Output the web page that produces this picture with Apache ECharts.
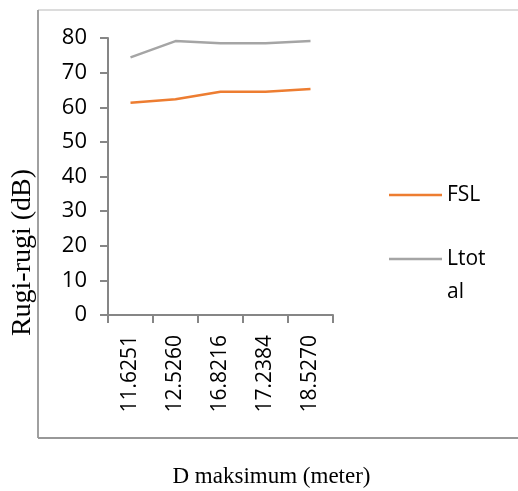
<!DOCTYPE html>
<html>
<head>
<meta charset="utf-8">
<script src="https://cdn.jsdelivr.net/npm/echarts@6/dist/echarts.min.js"></script>
<style>
  html, body { margin: 0; padding: 0; background: #fff; }
  #chart { width: 518px; height: 491px; }
</style>
</head>
<body>
<div id="chart"></div>
<script>
// D maksimum (meter) categories
var categories = ['11.6251', '12.5260', '16.8216', '17.2384', '18.5270'];
// Rugi-rugi (dB)
var fsl = [61.3, 62.3, 64.5, 64.5, 65.3];
var ltotal = [74.4, 79.1, 78.5, 78.5, 79.1];
var yTicks = { min: 0, max: 80, interval: 10 };

var axisColor = '#868686';
var sans = '"Open Sans", sans-serif';
var serif = '"Liberation Serif", "Times New Roman", serif';

var chart = echarts.init(document.getElementById('chart'), null, { renderer: 'canvas' });

chart.setOption({
  backgroundColor: '#fff',
  animation: false,
  grid: {
    left: 108,
    right: 185,
    top: 38,
    bottom: 176,
    containLabel: false,
    outerBoundsMode: 'none'
  },
  graphic: [
    { type: 'line', shape: { x1: 38, y1: 10, x2: 518, y2: 10 }, style: { stroke: '#d0d0d0', lineWidth: 1.5 } },
    { type: 'line', shape: { x1: 38, y1: 10, x2: 38, y2: 438 }, style: { stroke: '#a0a0a0', lineWidth: 2 } },
    { type: 'line', shape: { x1: 38, y1: 438, x2: 518, y2: 438 }, style: { stroke: '#989898', lineWidth: 2 } }
  ],
  legend: [
    {
      data: ['FSL'],
      orient: 'vertical',
      left: 389,
      top: 184.5,
      padding: 0,
      icon: 'rect',
      itemWidth: 53,
      itemHeight: 2.5,
      textStyle: { fontFamily: sans, fontSize: 21, color: '#000' }
    },
    {
      data: ['Ltotal'],
      orient: 'vertical',
      left: 389,
      top: 209.5,
      padding: 0,
      icon: 'rect',
      itemWidth: 53,
      itemHeight: 2.5,
      // Excel wrapped the long name: keep "Ltot" level with the swatch
      formatter: function (name) { return '\u00a0\nLtot\nal'; },
      textStyle: { fontFamily: sans, fontSize: 21, color: '#000', lineHeight: 33 }
    }
  ],
  xAxis: {
    type: 'category',
    data: categories,
    boundaryGap: true,
    name: 'D maksimum (meter)',
    nameLocation: 'middle',
    nameGap: 150,
    nameTextStyle: { fontFamily: serif, fontSize: 23, color: '#000', padding: [0, 0, 0, 102] },
    axisLine: { lineStyle: { color: axisColor, width: 2 } },
    axisTick: { show: true, length: 8, lineStyle: { color: axisColor, width: 2 } },
    axisLabel: { rotate: 90, margin: 20, fontFamily: sans, fontSize: 21, color: '#000' }
  },
  yAxis: {
    type: 'value',
    min: yTicks.min,
    max: yTicks.max,
    interval: yTicks.interval,
    name: 'Rugi-rugi (dB)',
    nameLocation: 'middle',
    nameRotate: 90,
    nameGap: 71,
    nameTextStyle: { fontFamily: serif, fontSize: 28, color: '#000', padding: [0, 152, 0, 0] },
    axisLine: { show: true, lineStyle: { color: axisColor, width: 2 } },
    axisTick: { show: true, length: 8, lineStyle: { color: axisColor, width: 2 } },
    splitLine: { show: false },
    axisLabel: { margin: 21, fontFamily: sans, fontSize: 22, color: '#000' }
  },
  series: [
    {
      name: 'FSL',
      type: 'line',
      data: fsl,
      symbol: 'none',
      itemStyle: { color: '#ED7D31' },
      lineStyle: { color: '#ED7D31', width: 2.5 }
    },
    {
      name: 'Ltotal',
      type: 'line',
      data: ltotal,
      symbol: 'none',
      itemStyle: { color: '#A5A5A5' },
      lineStyle: { color: '#A5A5A5', width: 2.5 }
    }
  ]
});
</script>
</body>
</html>
